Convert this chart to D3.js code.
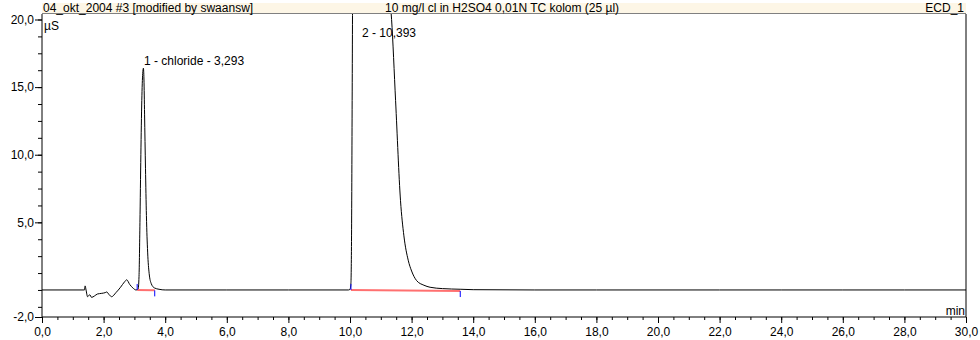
<!DOCTYPE html>
<html>
<head>
<meta charset="utf-8">
<script src="https://cdn.jsdelivr.net/npm/d3@7"></script>
<style>
    body { margin: 0; background: #fff; }
    svg { display: block; font-family: "Liberation Sans", Arial, sans-serif; }
    .axis text { font-size: 12px; fill: #000; font-family: "Liberation Sans", Arial, sans-serif; }
    .axis line { stroke: #000; }
</style>
</head>
<body>
<div id="chart"></div>
<script>
// chromatogram (min, µS)
const time = [0, 1.38, 1.40, 1.43, 1.48, 1.55, 1.61, 1.70, 1.80, 1.94, 2.05, 2.10, 2.18, 2.26, 2.40, 2.55, 2.68, 2.75, 2.85, 2.95, 3.05,
    3.12, 3.15, 3.18, 3.21, 3.24, 3.27, 3.293, 3.31, 3.33, 3.36, 3.39, 3.43, 3.48, 3.55, 3.65, 3.80, 4.0,
    6.0, 8.0, 9.95, 10.0, 10.03, 10.05, 10.07, 10.09, 10.2, 10.393, 10.7, 11.0, 11.3, 11.35, 11.48, 11.64, 11.75, 11.89, 12.0, 12.16, 12.4, 12.6, 13.0, 13.6, 14.0,
    16.0, 18.0, 20.0, 22.0, 24.0, 26.0, 28.0, 30.0];
const signal = [0, 0, 0.3, 0.0, -0.5, -0.35, -0.55, -0.45, -0.3, -0.25, -0.2, -0.15, -0.35, -0.5, -0.2, 0.2, 0.6, 0.75, 0.4, 0.15, 0.0,
    0.05, 1.0, 5.0, 10.0, 14.0, 16.0, 16.4, 15.6, 13.0, 9.0, 5.5, 2.8, 1.2, 0.45, 0.15, 0.05, 0.0,
    0.0, 0.0, 0.0, 0.05, 0.5, 4.0, 14.0, 24.0, 38.0, 42.0, 38.0, 30.0, 21.5, 20.0, 14.0, 6.6, 4.0, 2.2, 1.4, 0.7, 0.35, 0.2, 0.1, 0.05, 0.02,
    0.0, 0.0, 0.0, 0.0, 0.0, 0.0, 0.0, 0.0];

// integration (start, end) per peak
const peakLabels = ['1 - chloride - 3,293', '2 - 10,393'];
const peakTimes = [3.293, 10.393];
const peakStart = [3.09, 10.03];
const peakEnd = [3.66, 13.58];
const peakBaseStart = [0.0, 0.0];
const peakBaseEnd = [-0.03, -0.08];

const xMajorTicks = d3.range(0, 30.01, 2);
const xMinorTicks = d3.range(0, 30.01, 0.5);
const yMajorTicks = [-2, 5, 10, 15, 20];
const yMinorTicks = [-2, -1.25, 0, 1.25, 2.5, 3.75, 5, 6.25, 7.5, 8.75, 10, 11.25, 12.5, 13.75, 15, 16.25, 17.5, 18.75, 20];

const headerLeft = '04_okt_2004 #3 [modified by swaansw]';
const headerMid = '10 mg/l cl in H2SO4 0,01N TC kolom (25 µl)';
const headerRight = 'ECD_1';

const width = 980, height = 340;
const plotLeft = 42, plotRight = 966, plotTop = 14, plotBottom = 317;

const loc = d3.formatLocale({ decimal: ',', thousands: '.', grouping: [3], currency: ['', ''], minus: '-' });
const fmt = loc.format('.1f');

const svg = d3.select('#chart').append('svg')
    .attr('width', width)
    .attr('height', height);

const x = d3.scaleLinear().domain([0, 30]).range([plotLeft, plotRight]);
const y = d3.scaleLinear().domain([-2, 20]).range([plotBottom, 19.5]);

// header band
svg.append('rect')
    .attr('x', plotLeft).attr('y', 3)
    .attr('width', plotRight - plotLeft).attr('height', 10.5)
    .attr('fill', '#fdf6e6');
svg.append('line')
    .attr('x1', plotLeft).attr('x2', plotRight)
    .attr('y1', 13.5).attr('y2', 13.5)
    .attr('stroke', '#808080');

svg.append('clipPath').attr('id', 'plotClip')
    .append('rect')
    .attr('x', plotLeft).attr('y', plotTop)
    .attr('width', plotRight - plotLeft).attr('height', plotBottom - plotTop);

// signal
const line = d3.line()
    .x((d, i) => x(time[i]))
    .y(d => y(d))
    .curve(d3.curveMonotoneX);

svg.append('path')
    .datum(signal)
    .attr('clip-path', 'url(#plotClip)')
    .attr('fill', 'none')
    .attr('stroke', '#000')
    .attr('stroke-width', 1)
    .attr('d', line);

// integration baselines and delimiters
peakStart.forEach((s, i) => {
    svg.append('line')
        .attr('x1', x(s)).attr('x2', x(peakEnd[i]))
        .attr('y1', y(peakBaseStart[i])).attr('y2', y(peakBaseEnd[i]))
        .attr('stroke', '#ff7070')
        .attr('stroke-width', 2);
    svg.append('line')
        .attr('x1', x(s)).attr('x2', x(s))
        .attr('y1', y(peakBaseStart[i]) - 6).attr('y2', y(peakBaseStart[i]))
        .attr('stroke', '#0000ff');
    svg.append('line')
        .attr('x1', x(peakEnd[i])).attr('x2', x(peakEnd[i]))
        .attr('y1', y(peakBaseEnd[i])).attr('y2', y(peakBaseEnd[i]) + 6)
        .attr('stroke', '#0000ff');
});

// x axis
svg.append('g').attr('class', 'axis')
    .attr('transform', `translate(0,${plotBottom})`)
    .call(d3.axisBottom(x).tickValues(xMinorTicks).tickSize(3).tickFormat(''))
    .call(g => g.select('.domain').remove());
svg.append('g').attr('class', 'axis')
    .attr('transform', `translate(0,${plotBottom})`)
    .call(d3.axisBottom(x).tickValues(xMajorTicks).tickSize(6).tickPadding(4).tickFormat(fmt))
    .call(g => g.select('.domain').remove());

// y axis
svg.append('g').attr('class', 'axis')
    .attr('transform', `translate(${plotLeft},0)`)
    .call(d3.axisLeft(y).tickValues(yMinorTicks).tickSize(4).tickFormat(''))
    .call(g => g.select('.domain').remove());
svg.append('g').attr('class', 'axis')
    .attr('transform', `translate(${plotLeft},0)`)
    .call(d3.axisLeft(y).tickValues(yMajorTicks).tickSize(7).tickPadding(1).tickFormat(fmt))
    .call(g => g.select('.domain').remove());

// frame lines
svg.append('line').attr('x1', plotLeft).attr('x2', plotLeft).attr('y1', plotTop).attr('y2', plotBottom).attr('stroke', '#000');
svg.append('line').attr('x1', plotLeft).attr('x2', plotRight).attr('y1', plotBottom).attr('y2', plotBottom).attr('stroke', '#000');
svg.append('line').attr('x1', plotRight).attr('x2', plotRight).attr('y1', plotTop).attr('y2', plotBottom).attr('stroke', '#000');

// texts
svg.append('text').attr('x', 43).attr('y', 12).attr('font-size', 12).text(headerLeft);
svg.append('text').attr('x', 385).attr('y', 12).attr('font-size', 12).text(headerMid);
svg.append('text').attr('x', 964).attr('y', 12).attr('font-size', 12).attr('text-anchor', 'end').text(headerRight);
svg.append('text').attr('x', 44).attr('y', 30).attr('font-size', 12).text('µS');
svg.append('text').attr('x', 965).attr('y', 315).attr('font-size', 12).attr('text-anchor', 'end').text('min');

const labelPos = [[144, 65], [362, 37]];
peakLabels.forEach((t, i) => {
    svg.append('text')
        .attr('x', labelPos[i][0]).attr('y', labelPos[i][1])
        .attr('font-size', 12)
        .text(t);
});
</script>
</body>
</html>
